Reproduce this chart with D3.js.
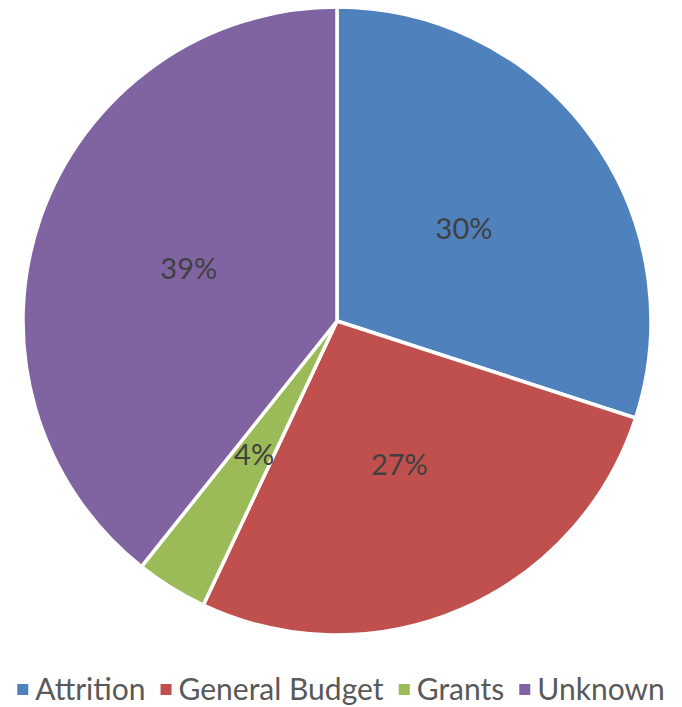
<!DOCTYPE html>
<html><head><meta charset="utf-8">
<script src="https://cdn.jsdelivr.net/npm/d3@7"></script>
<style>body{margin:0;background:#fff}svg{display:block}</style>
</head><body>
<script>
const categories = ["Attrition", "General Budget", "Grants", "Unknown"];
const values = [30.0, 27.0, 3.7, 39.3];
const colors = ["#4f81bd", "#c0504d", "#9bbb59", "#8064a2"];

const W = 682, H = 707;
const cx = 337, cy = 321, R = 314;
const FONT = "Lato, 'Open Sans', sans-serif";

const svg = d3.select("body").append("svg").attr("width", W).attr("height", H);
const total = d3.sum(values);
const data = categories.map((c, i) => ({cat: c, value: values[i], color: colors[i]}));
const pct = d3.format(".0%");

const pie = d3.pie().value(d => d.value).sort(null);
const arc = d3.arc().innerRadius(0).outerRadius(R);
const labelArc = d3.arc().innerRadius(R * 0.5).outerRadius(R * 0.5);

const g = svg.append("g").attr("transform", `translate(${cx},${cy})`);
const arcs = pie(data);
g.selectAll("path").data(arcs).join("path")
  .attr("d", arc).attr("fill", d => d.data.color)
  .attr("stroke", "#fff").attr("stroke-width", 3.5).attr("stroke-linejoin", "miter");

g.selectAll("text").data(arcs).join("text")
  .attr("transform", d => `translate(${labelArc.centroid(d)})`)
  .attr("text-anchor", "middle").attr("dy", "0.35em")
  .attr("font-family", FONT).attr("font-size", 29).attr("fill", "#404040")
  .text(d => pct(d.data.value / total));

// legend
const lg = svg.append("g").attr("transform", `translate(0,689)`);
const items = lg.selectAll("g").data(data).join("g");
items.append("rect").attr("width", 11).attr("height", 11).attr("y", -5).attr("fill", d => d.color);
items.append("text").attr("x", 18).attr("dy", "0.35em")
  .attr("font-family", FONT).attr("font-size", 30).attr("fill", "#595959")
  .text(d => d.cat);
let x = 0; const gap = 15;
const widths = [];
items.each(function(){ widths.push(this.getBBox().width); });
const tw = d3.sum(widths) + gap * (widths.length - 1);
x = (W - tw) / 2;
items.each(function(d, i){ d3.select(this).attr("transform", `translate(${x},0)`); x += widths[i] + gap; });
</script>
</body></html>
